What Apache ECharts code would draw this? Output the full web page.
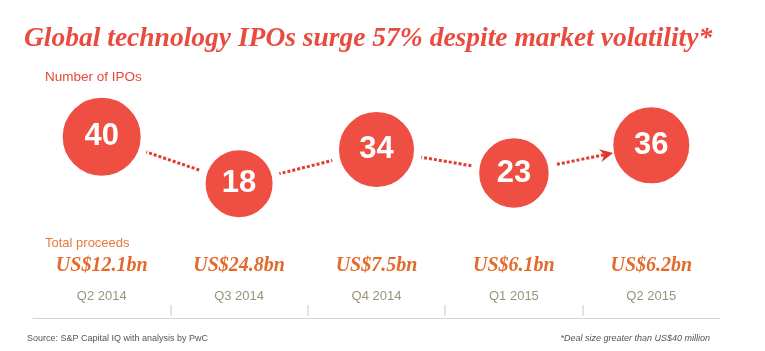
<!DOCTYPE html>
<html>
<head>
<meta charset="utf-8">
<title>Global technology IPOs</title>
<script src="https://cdn.jsdelivr.net/npm/echarts@6.0.0/dist/echarts.min.js"></script>
<style>
  html, body { margin: 0; padding: 0; background: #fff; }
  #chart { width: 765px; height: 351px; }
</style>
</head>
<body>
<div id="chart"></div>
<script>
// values
var quarters = ['Q2 2014', 'Q3 2014', 'Q4 2014', 'Q1 2015', 'Q2 2015'];
var ipoCounts = [40, 18, 34, 23, 36];
var proceeds = ['US$12.1bn', 'US$24.8bn', 'US$7.5bn', 'US$6.1bn', 'US$6.2bn'];

var red = '#ef4e43';
var ring = 8; // white ring round each bubble, keeps the dotted line off the edge
function bubbleSize(v) { return 58 + v * 0.5 + ring; }

var chart = echarts.init(document.getElementById('chart'));

var option = {
    animation: false,
    title: [
        {
            text: 'Global technology IPOs surge 57% despite market volatility*',
            left: 24, top: 25, padding: 0,
            textStyle: { fontFamily: 'Liberation Serif', fontStyle: 'italic', fontWeight: 'bold', fontSize: 27.5, color: '#ea4b3f' }
        },
        {
            text: 'Number of IPOs', left: 45, top: 70, padding: 0,
            textStyle: { fontFamily: 'Liberation Sans', fontWeight: 'normal', fontSize: 13.5, color: '#e5473c' }
        },
        {
            text: 'Total proceeds', left: 45, top: 237, padding: 0,
            textStyle: { fontFamily: 'Liberation Sans', fontWeight: 'normal', fontSize: 13, color: '#e9773a' }
        },
        {
            text: 'Source: S&P Capital IQ with analysis by PwC', left: 27, top: 334, padding: 0,
            textStyle: { fontFamily: 'Liberation Sans', fontWeight: 'normal', fontSize: 9, color: '#555' }
        },
        {
            text: '*Deal size greater than US$40 million', right: 55, top: 334, padding: 0,
            textStyle: { fontFamily: 'Liberation Sans', fontStyle: 'italic', fontWeight: 'normal', fontSize: 9, color: '#555' }
        }
    ],
    grid: { left: 33, right: 45, top: 60, bottom: 33 },
    xAxis: [
        {
            type: 'category',
            data: quarters,
            boundaryGap: true,
            axisLine: { onZero: false, lineStyle: { color: '#d9d4c1', width: 1 } },
            axisTick: { show: false },
            axisLabel: {
                inside: true,
                interval: 0,
                margin: 7,
                formatter: function (v, i) { return '{p|' + proceeds[i] + '}\n{q|' + v + '}'; },
                rich: {
                    p: { fontFamily: 'Liberation Serif', fontStyle: 'italic', fontWeight: 'bold', fontSize: 20, color: '#e26b2c', lineHeight: 30 },
                    q: { fontFamily: 'Liberation Sans', fontSize: 13, color: '#9a947a', lineHeight: 30 }
                }
            },
            splitLine: { show: false }
        },
        {
            // only used for the little separators between quarters
            type: 'value',
            position: 'bottom',
            offset: -2,
            min: 0,
            max: quarters.length,
            axisLine: { show: false, onZero: false },
            axisLabel: { show: false },
            splitLine: { show: false },
            axisTick: {
                show: true,
                inside: true,
                length: 11,
                customValues: quarters.slice(1).map(function (q, i) { return i + 1; }),
                lineStyle: { color: '#dcdcdc', width: 1.5 }
            }
        }
    ],
    yAxis: { type: 'value', min: -45, max: 76, show: false },
    series: [
        {
            type: 'line',
            data: ipoCounts,
            symbol: 'none',
            silent: true,
            z: 2,
            lineStyle: { color: '#e23a30', width: 3, type: [3, 2], cap: 'butt' }
        },
        {
            type: 'scatter',
            data: ipoCounts,
            z: 3,
            symbolSize: function (v) { return bubbleSize(v); },
            itemStyle: { color: red, borderColor: '#fff', borderWidth: ring, opacity: 1 },
            label: {
                show: true,
                position: 'inside',
                formatter: function (p) { return p.value; },
                fontFamily: 'Liberation Sans',
                fontWeight: 'bold',
                fontSize: 31,
                color: '#fff'
            }
        }
    ]
};
chart.setOption(option);

// arrowhead where the last dotted segment meets the last bubble
var n = ipoCounts.length;
var a = chart.convertToPixel({ seriesIndex: 0 }, [n - 2, ipoCounts[n - 2]]);
var b = chart.convertToPixel({ seriesIndex: 0 }, [n - 1, ipoCounts[n - 1]]);
var dx = b[0] - a[0], dy = b[1] - a[1];
var len = Math.sqrt(dx * dx + dy * dy);
dx /= len; dy /= len;
var r = (bubbleSize(ipoCounts[n - 1]) - ring) / 2 + 1;
var tip = [b[0] - dx * r, b[1] - dy * r];
var back = 13, half = 6.5, notch = 9;
var baseX = tip[0] - dx * back, baseY = tip[1] - dy * back;
chart.setOption({
    graphic: [{
        type: 'polygon',
        z: 100,
        silent: true,
        shape: {
            points: [
                tip,
                [baseX - dy * half, baseY + dx * half],
                [tip[0] - dx * notch, tip[1] - dy * notch],
                [baseX + dy * half, baseY - dx * half]
            ]
        },
        style: { fill: '#e0352d' }
    }]
});
</script>
</body>
</html>
